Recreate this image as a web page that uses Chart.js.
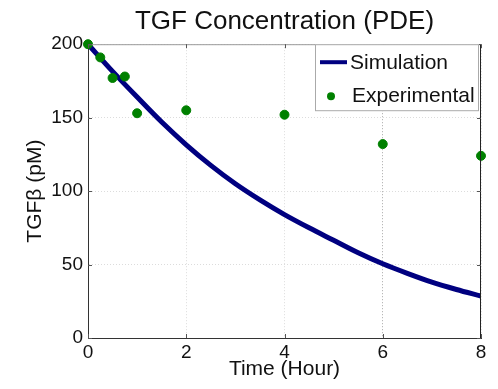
<!DOCTYPE html>
<html>
<head>
<meta charset="utf-8">
<script src="https://cdn.jsdelivr.net/npm/chart.js@4.4.1/dist/chart.umd.min.js"></script>
<style>
  html, body { margin: 0; padding: 0; background: #fff; }
  #wrap { width: 498px; height: 389px; }
</style>
</head>
<body>
<div id="wrap"><canvas id="myChart" width="498" height="389"></canvas></div>
<script>
// simulation curve, every half hour
var simTime = [0, 0.5, 1, 1.5, 2, 2.5, 3, 3.5, 4, 4.5, 5, 5.5, 6, 6.5, 7, 7.5, 8];
var simValues = [200, 181.5, 164, 147, 131.5, 117.5, 105, 94, 84, 75, 66.5, 58, 50.5, 44, 38, 33, 28.5];

// experimental measurements
var expTime = [0, 0.25, 0.5, 0.75, 1, 2, 4, 6, 8];
var expValues = [200, 191, 177, 178, 153, 155, 152, 132, 124];

var xTicks = [0, 2, 4, 6, 8];
var yTicks = [0, 50, 100, 150, 200];

var fontName = "'Liberation Sans', Arial, sans-serif";
var navy = "rgb(0, 0, 128)";
var green = "rgb(0, 128, 0)";

function toPoints(xs, ys) {
  var pts = [];
  xs.forEach(function (x, i) {
    pts.push({ x: x, y: ys[i] });
  });
  return pts;
}

// box around the axes, inward ticks, legend in the top right corner
var framePlugin = {
  id: "frame",
  afterDatasetsDraw: function (chart) {
    var ctx = chart.ctx;
    var a = chart.chartArea;
    var xs = chart.scales.x;
    var ys = chart.scales.y;
    ctx.save();

    ctx.lineWidth = 1;
    ctx.strokeStyle = "#9a9a9a";
    ctx.beginPath();
    ctx.moveTo(a.left, a.top + 0.5);
    ctx.lineTo(a.right, a.top + 0.5);
    ctx.stroke();
    ctx.strokeStyle = "#222";
    ctx.beginPath();
    ctx.moveTo(a.right - 0.5, a.top);
    ctx.lineTo(a.right - 0.5, a.bottom);
    ctx.stroke();

    // small inward ticks
    ctx.strokeStyle = "#555";
    xTicks.forEach(function (v) {
      var px = Math.round(xs.getPixelForValue(v)) + 0.5;
      ctx.beginPath();
      ctx.moveTo(px, a.bottom);
      ctx.lineTo(px, a.bottom - 4);
      ctx.moveTo(px, a.top);
      ctx.lineTo(px, a.top + 4);
      ctx.stroke();
    });
    yTicks.forEach(function (v) {
      var py = Math.round(ys.getPixelForValue(v)) + 0.5;
      ctx.beginPath();
      ctx.moveTo(a.left, py);
      ctx.lineTo(a.left + 4, py);
      ctx.moveTo(a.right, py);
      ctx.lineTo(a.right - 4, py);
      ctx.stroke();
    });

    // legend
    var bw = 164, bh = 67;
    var bx = a.right - 2 - bw, by = a.top;
    ctx.fillStyle = "#fff";
    ctx.fillRect(bx, by, bw, bh);
    ctx.strokeStyle = "#aaa";
    ctx.strokeRect(bx + 0.5, by + 0.5, bw - 1, bh - 1);

    ctx.strokeStyle = navy;
    ctx.lineWidth = 4;
    ctx.beginPath();
    ctx.moveTo(bx + 5, by + 18);
    ctx.lineTo(bx + 32, by + 18);
    ctx.stroke();

    ctx.fillStyle = green;
    ctx.beginPath();
    ctx.arc(bx + 16, by + 52, 4, 0, Math.PI * 2);
    ctx.fill();

    ctx.fillStyle = "#111";
    ctx.font = "21px " + fontName;
    ctx.textBaseline = "middle";
    ctx.textAlign = "left";
    ctx.fillText(chart.data.datasets[1].label, bx + 35, by + 19);
    ctx.fillText(chart.data.datasets[0].label, bx + 37, by + 52);
    ctx.restore();
  }
};

var ctx = document.getElementById("myChart").getContext("2d");
var chart = new Chart(ctx, {
  type: "scatter",
  data: {
    datasets: [
      {
        label: "Experimental",
        data: toPoints(expTime, expValues),
        backgroundColor: green,
        borderColor: green,
        pointRadius: 4.5,
        pointStyle: "circle",
        clip: false,
        order: 0
      },
      {
        label: "Simulation",
        data: toPoints(simTime, simValues),
        showLine: true,
        borderColor: navy,
        borderWidth: 5,
        pointRadius: 0,
        cubicInterpolationMode: "monotone",
        order: 1
      }
    ]
  },
  options: {
    responsive: false,
    animation: false,
    layout: { padding: { top: 0, right: 17, bottom: 0, left: 0 } },
    plugins: {
      legend: { display: false },
      tooltip: { enabled: false },
      title: {
        display: true,
        text: "TGF Concentration (PDE)",
        fullSize: false,
        color: "#111",
        font: { family: fontName, size: 26, weight: "normal" },
        padding: { top: 6, bottom: 7 }
      }
    },
    scales: {
      x: {
        type: "linear",
        min: 0,
        max: 8,
        afterFit: function (scale) { scale.height = 51; },
        afterBuildTicks: function (scale) {
          scale.ticks = xTicks.map(function (v) { return { value: v }; });
        },
        ticks: {
          padding: 3,
          color: "#111",
          font: { family: fontName, size: 19 }
        },
        grid: {
          drawTicks: false,
          color: function (c) {
            if (c.tick && c.tick.value === 6) return "#a8a8a8";
            return "#dcdcdc";
          }
        },
        border: { color: "#333", dash: [1, 2] },
        title: {
          display: true,
          text: "Time (Hour)",
          color: "#111",
          font: { family: fontName, size: 21 },
          padding: { top: 0, bottom: 7 }
        }
      },
      y: {
        type: "linear",
        min: 0,
        max: 200,
        afterFit: function (scale) { scale.width = 88; },
        afterBuildTicks: function (scale) {
          scale.ticks = yTicks.map(function (v) { return { value: v }; });
        },
        ticks: {
          padding: 5,
          color: "#111",
          font: { family: fontName, size: 19 }
        },
        grid: {
          drawTicks: false,
          color: "#dcdcdc"
        },
        border: { color: "#333", dash: [1, 2] },
        title: {
          display: true,
          text: "TGFβ (pM)",
          color: "#111",
          font: { family: fontName, size: 21 },
          padding: { top: 23, bottom: 0 }
        }
      }
    }
  },
  plugins: [framePlugin]
});
</script>
</body>
</html>
